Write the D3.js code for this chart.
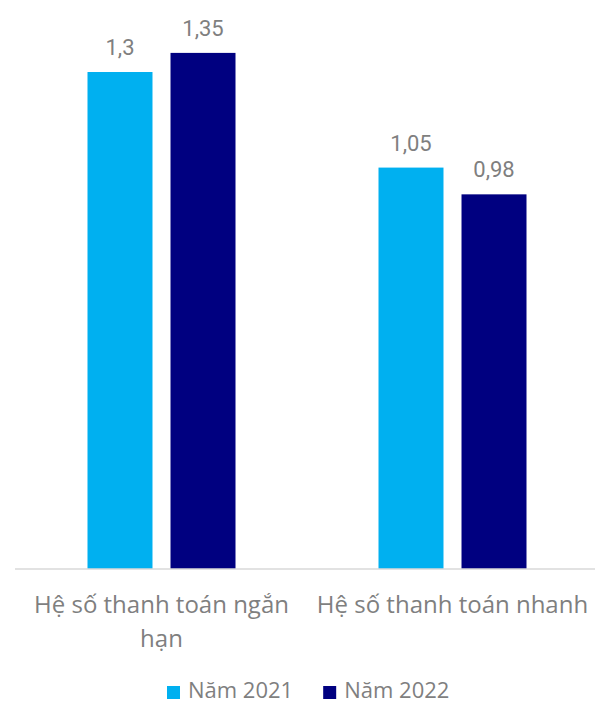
<!DOCTYPE html>
<html>
<head>
<meta charset="utf-8">
<script src="https://cdnjs.cloudflare.com/ajax/libs/d3/7.8.5/d3.min.js"></script>
<style>
  body { margin: 0; background: #fff; }
  svg text { font-family: "Open Sans", sans-serif; }
</style>
</head>
<body>
<div id="chart"></div>
<script>
  var categories = ["Hệ số thanh toán ngắn hạn", "Hệ số thanh toán nhanh"];
  var seriesNames = ["Năm 2021", "Năm 2022"];
  var values2021 = [1.3, 1.05];
  var values2022 = [1.35, 0.98];
  var valueLabels2021 = ["1,3", "1,05"];
  var valueLabels2022 = ["1,35", "0,98"];
  var colors = ["#00b0f0", "#000080"];

  var width = 595, height = 705;
  var baseY = 569;

  var rows = categories.map(function(c, i){
    return {
      cat: c,
      vals: [
        {s: 0, v: values2021[i], lab: valueLabels2021[i]},
        {s: 1, v: values2022[i], lab: valueLabels2022[i]}
      ]
    };
  });

  var svg = d3.select("#chart").append("svg")
    .attr("width", width)
    .attr("height", height);

  var x0 = d3.scaleBand().domain(categories).range([16, 598]).padding(0);
  var groupW = 148;
  var x1 = d3.scaleBand().domain([0, 1]).range([0, groupW]).paddingInner(0.217).paddingOuter(0);
  var y = d3.scaleLinear().domain([0, 1.6]).range([baseY, baseY - 1.6 * 382.3]);

  var groups = svg.selectAll("g.grp")
    .data(rows)
    .enter().append("g")
    .attr("class", "grp")
    .attr("transform", function(d){
      return "translate(" + (x0(d.cat) + x0.bandwidth()/2 - groupW/2) + ",0)";
    });

  groups.selectAll("rect")
    .data(function(d){ return d.vals; })
    .enter().append("rect")
    .attr("x", function(d){ return x1(d.s); })
    .attr("width", x1.bandwidth())
    .attr("y", function(d){ return y(d.v); })
    .attr("height", function(d){ return baseY - y(d.v); })
    .style("fill", function(d){ return colors[d.s]; });

  groups.selectAll("text.val")
    .data(function(d){ return d.vals; })
    .enter().append("text")
    .attr("class", "val")
    .attr("x", function(d){ return x1(d.s) + x1.bandwidth()/2; })
    .attr("y", function(d){ return y(d.v) - 17; })
    .attr("text-anchor", "middle")
    .style("font-family", "Roboto, sans-serif")
    .style("font-size", "22px")
    .style("fill", "#7f7f7f")
    .text(function(d){ return d.lab; });

  // axis line
  svg.append("line")
    .attr("x1", 15).attr("x2", 595)
    .attr("y1", baseY).attr("y2", baseY)
    .style("stroke", "#d9d9d9")
    .style("stroke-width", 1.5);

  // category labels, wrapped like excel does
  var catText = svg.selectAll("text.cat")
    .data(categories)
    .enter().append("text")
    .attr("class", "cat")
    .attr("text-anchor", "middle")
    .style("font-size", "24px")
    .style("fill", "#7f7f7f");

  catText.each(function(c){
    var t = d3.select(this);
    var cx = x0(c) + x0.bandwidth()/2;
    var words = c.split(" ");
    var line = [];
    var lineNo = 0;
    var tspan = t.append("tspan").attr("x", cx).attr("y", 613);
    words.forEach(function(w){
      line.push(w);
      tspan.text(line.join(" "));
      if (tspan.node().getComputedTextLength() > 282 && line.length > 1) {
        line.pop();
        tspan.text(line.join(" "));
        line = [w];
        lineNo++;
        tspan = t.append("tspan").attr("x", cx).attr("y", 613 + lineNo * 34).text(w);
      }
    });
  });

  // legend
  var legend = svg.append("g");
  var lx = 167;
  seriesNames.forEach(function(n, i){
    var g = legend.append("g").attr("transform", "translate(" + lx + ",0)");
    g.append("rect")
      .attr("x", 0).attr("y", 686)
      .attr("width", 13).attr("height", 13)
      .style("fill", colors[i]);
    var tx = g.append("text")
      .attr("x", 21).attr("y", 698)
      .style("font-size", "22px")
      .style("fill", "#7f7f7f")
      .text(n);
    lx += 21 + tx.node().getComputedTextLength() + 30;
  });
</script>
</body>
</html>
